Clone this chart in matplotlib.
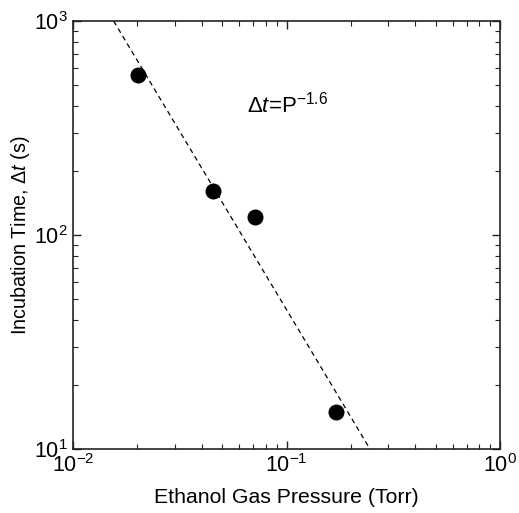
import matplotlib
matplotlib.use("Agg")
import matplotlib.pyplot as plt
import numpy as np

plt.rcParams['font.family'] = ['Liberation Sans', 'DejaVu Sans']
plt.rcParams['mathtext.fontset'] = 'custom'
plt.rcParams['mathtext.rm'] = 'Liberation Sans'
plt.rcParams['mathtext.it'] = 'Liberation Sans:italic'
plt.rcParams['mathtext.sf'] = 'Liberation Sans'

pressure = [0.0201, 0.0451, 0.071, 0.1706]
incubation = [560, 160, 121, 14.9]
fit_x = [0.0155, 0.246]
fit_y = [1000, 10]

fig = plt.figure(figsize=(5.19, 5.13), dpi=100)
ax = fig.add_axes([73/519, 1 - 449/513, 427/519, 428/513])

ax.plot(fit_x, fit_y, color='black', linestyle=(0, (4, 3)), linewidth=0.9)
ax.plot(pressure, incubation, 'o', color='black', markersize=10.5, linestyle='none')

ax.set_xscale('log')
ax.set_yscale('log')
ax.set_xlim(1e-2, 1)
ax.set_ylim(1e1, 1e3)

ax.text(0.0653, 373, r'$\Delta\mathit{t}$=P$^{-1.6}$', fontsize=16, ha='left', va='baseline')

ax.set_xlabel('Ethanol Gas Pressure (Torr)', fontsize=15.3, labelpad=8)
ax.set_ylabel(r'Incubation Time, $\Delta\mathit{t}$ (s)', fontsize=14.2, labelpad=2)

for s in ax.spines.values():
    s.set_linewidth(1.2)
    s.set_color('#222222')
ax.tick_params(which='both', direction='in', top=True, right=True, labelsize=15.5, color='#222222')
ax.tick_params(which='major', length=6, width=1)
ax.tick_params(which='minor', length=3.5, width=0.8)

fig.savefig('out.png', dpi=100)
